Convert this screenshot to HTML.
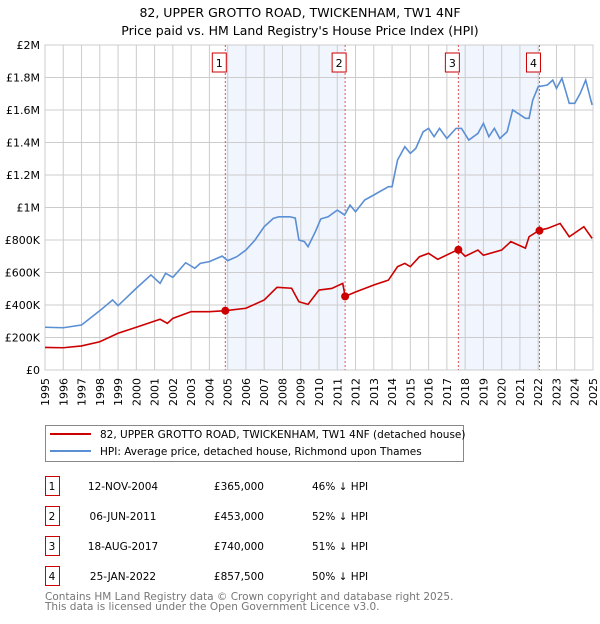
<!DOCTYPE html>
<html><head><meta charset="utf-8"><style>
body{margin:0;background:#fff;width:600px;height:620px;overflow:hidden;font-family:"DejaVu Sans","Liberation Sans",sans-serif}
svg text{font-family:"DejaVu Sans","Liberation Sans",sans-serif}
</style></head><body>
<svg id="chart" width="600" height="620" xmlns="http://www.w3.org/2000/svg">
<text x="300" y="17" text-anchor="middle" font-size="12.5">82, UPPER GROTTO ROAD, TWICKENHAM, TW1 4NF</text>
<text x="300" y="35" text-anchor="middle" font-size="12.5">Price paid vs. HM Land Registry's House Price Index (HPI)</text>
<g id="plot"></g>
<g>
<rect x="45.5" y="425.5" width="418" height="36" fill="#fff" stroke="#888"/>
<line x1="50" y1="434" x2="91" y2="434" stroke="#cc0000" stroke-width="2"/>
<text x="100" y="438" font-size="10.5">82, UPPER GROTTO ROAD, TWICKENHAM, TW1 4NF (detached house)</text>
<line x1="50" y1="451" x2="91" y2="451" stroke="#5b8fd4" stroke-width="2"/>
<text x="100" y="455" font-size="10.5">HPI: Average price, detached house, Richmond upon Thames</text>
</g>
<g id="table"></g>
<text x="45" y="600" font-size="10.5" fill="#777">Contains HM Land Registry data © Crown copyright and database right 2025.</text>
<text x="45" y="610" font-size="10.5" fill="#777">This data is licensed under the Open Government Licence v3.0.</text>
</svg>
<script>
const hpiYears=[1995,1996,1997,1998,1998.7,1999,2000,2000.8,2001.3,2001.6,2002,2002.7,2003.2,2003.5,2004,2004.7,2005,2005.5,2006,2006.5,2007,2007.5,2007.8,2008.4,2008.7,2008.9,2009.2,2009.4,2009.8,2010.1,2010.5,2011,2011.4,2011.7,2012,2012.5,2013,2013.8,2014,2014.3,2014.7,2015,2015.3,2015.7,2016,2016.3,2016.6,2017,2017.5,2017.8,2018.2,2018.7,2019,2019.3,2019.6,2019.9,2020.3,2020.6,2020.9,2021.3,2021.5,2021.7,2022,2022.5,2022.8,2023,2023.3,2023.7,2024,2024.3,2024.6,2024.95];
const hpiValues=[263,260,277,365,431,396,503,585,533,595,570,660,626,656,667,701,673,697,738,800,882,933,943,943,935,800,790,759,851,930,943,984,954,1015,974,1046,1077,1128,1128,1292,1374,1333,1364,1466,1487,1436,1487,1425,1487,1487,1415,1456,1518,1436,1487,1425,1466,1600,1579,1549,1549,1661,1743,1754,1784,1733,1795,1641,1641,1702,1784,1631];
const saleYears=[1995,1996,1997,1998,1999,2000,2001.3,2001.7,2002,2003,2004,2004.87,2006,2007,2007.7,2008.5,2008.9,2009.4,2010,2010.7,2011.3,2011.43,2012,2013,2013.8,2014.3,2014.7,2015,2015.5,2016,2016.5,2017.63,2018,2018.7,2019,2020,2020.5,2021.3,2021.5,2022.07,2022.5,2023.2,2023.7,2024.5,2024.95];
const saleValues=[139,137,148,174,226,263,312,287,318,359,359,365,380,431,509,503,420,404,492,502,533,453,480,523,553,636,656,636,697,718,681,742,700,738,706,738,790,750,820,861,871,902,820,882,810];
const sales=[{n:"1",y:2004.87,v:365,date:"12-NOV-2004",price:"£365,000",pct:"46% ↓ HPI"},{n:"2",y:2011.43,v:453,date:"06-JUN-2011",price:"£453,000",pct:"52% ↓ HPI"},{n:"3",y:2017.63,v:740,date:"18-AUG-2017",price:"£740,000",pct:"51% ↓ HPI"},{n:"4",y:2022.07,v:857.5,date:"25-JAN-2022",price:"£857,500",pct:"50% ↓ HPI"}];
const yTicks=[0,200,400,600,800,1000,1200,1400,1600,1800,2000];
const yTickLabels=["£0","£200K","£400K","£600K","£800K","£1M","£1.2M","£1.4M","£1.6M","£1.8M","£2M"];
const xTicks=[1995,1996,1997,1998,1999,2000,2001,2002,2003,2004,2005,2006,2007,2008,2009,2010,2011,2012,2013,2014,2015,2016,2017,2018,2019,2020,2021,2022,2023,2024,2025];
const L=45,R=593,T=45,B=370;
const X=y=>L+(y-1995)/30*(R-L);
const Y=v=>B-v/2000*(B-T);
const NS="http://www.w3.org/2000/svg";
function mk(p,tag,a){const e=document.createElementNS(NS,tag);for(const k in a)e.setAttribute(k,a[k]);p.appendChild(e);return e;}
const g=document.getElementById('plot');
for(let i=0;i<sales.length;i+=2){const r=mk(g,'rect',{x:X(sales[i].y),y:T,width:X(sales[i+1].y)-X(sales[i].y),height:B-T,fill:'#eef3fc',opacity:0.8});

}
yTicks.forEach((t,i)=>{const l=mk(g,'line',{x1:L,x2:R,y1:Y(t),y2:Y(t),stroke:'#ccc'});


const tx=mk(g,'text',{x:40,y:Y(t)+4,'text-anchor':'end','font-size':11});tx.textContent=yTickLabels[i];

});
xTicks.forEach(t=>{const l=mk(g,'line',{x1:X(t),x2:X(t),y1:T,y2:B,stroke:'#ccc'});


const tx=mk(g,'text',{x:0,y:0,'text-anchor':'end','font-size':11,transform:`translate(${X(t)+4},${B+8}) rotate(-90)`});tx.textContent=t;

});
const fr=mk(g,'rect',{x:L,y:T,width:R-L,height:B-T,fill:'none',stroke:'#ccc'});


sales.forEach(s=>{const l=mk(g,'line',{x1:X(s.y),x2:X(s.y),y1:T,y2:B,stroke:'#e05555','stroke-dasharray':'2,2'});


const b=mk(g,'rect',{x:X(s.y)-13,y:53,width:14,height:19,fill:'#fff',stroke:'#cc0000'});


const t=mk(g,'text',{x:X(s.y)-6,y:67,'text-anchor':'middle','font-size':11});t.textContent=s.n;

});
const hp=mk(g,'polyline',{points:hpiYears.map((y,i)=>X(y)+','+Y(hpiValues[i])).join(' '),fill:'none',stroke:'#5b8fd4','stroke-width':1.6});


const pp=mk(g,'polyline',{points:saleYears.map((y,i)=>X(y)+','+Y(saleValues[i])).join(' '),fill:'none',stroke:'#cc0000','stroke-width':1.6});


sales.forEach(s=>{const c=mk(g,'circle',{cx:X(s.y),cy:Y(s.v),r:4,fill:'#cc0000'});

});
const tb=document.getElementById('table');
sales.forEach((s,i)=>{const y0=476+i*30;
const b=mk(tb,'rect',{x:45.5,y:y0+0.5,width:14,height:19,fill:'#fff',stroke:'#cc0000'});


const cells=[[52,'middle',s.n],[123,'middle',s.date],[264,'end',s.price],[312,'start',s.pct]];
cells.forEach((c,j)=>{const t=mk(tb,'text',{x:c[0],y:y0+14,'text-anchor':c[1],'font-size':10.5});t.textContent=c[2];

});});
</script>
</body></html>
